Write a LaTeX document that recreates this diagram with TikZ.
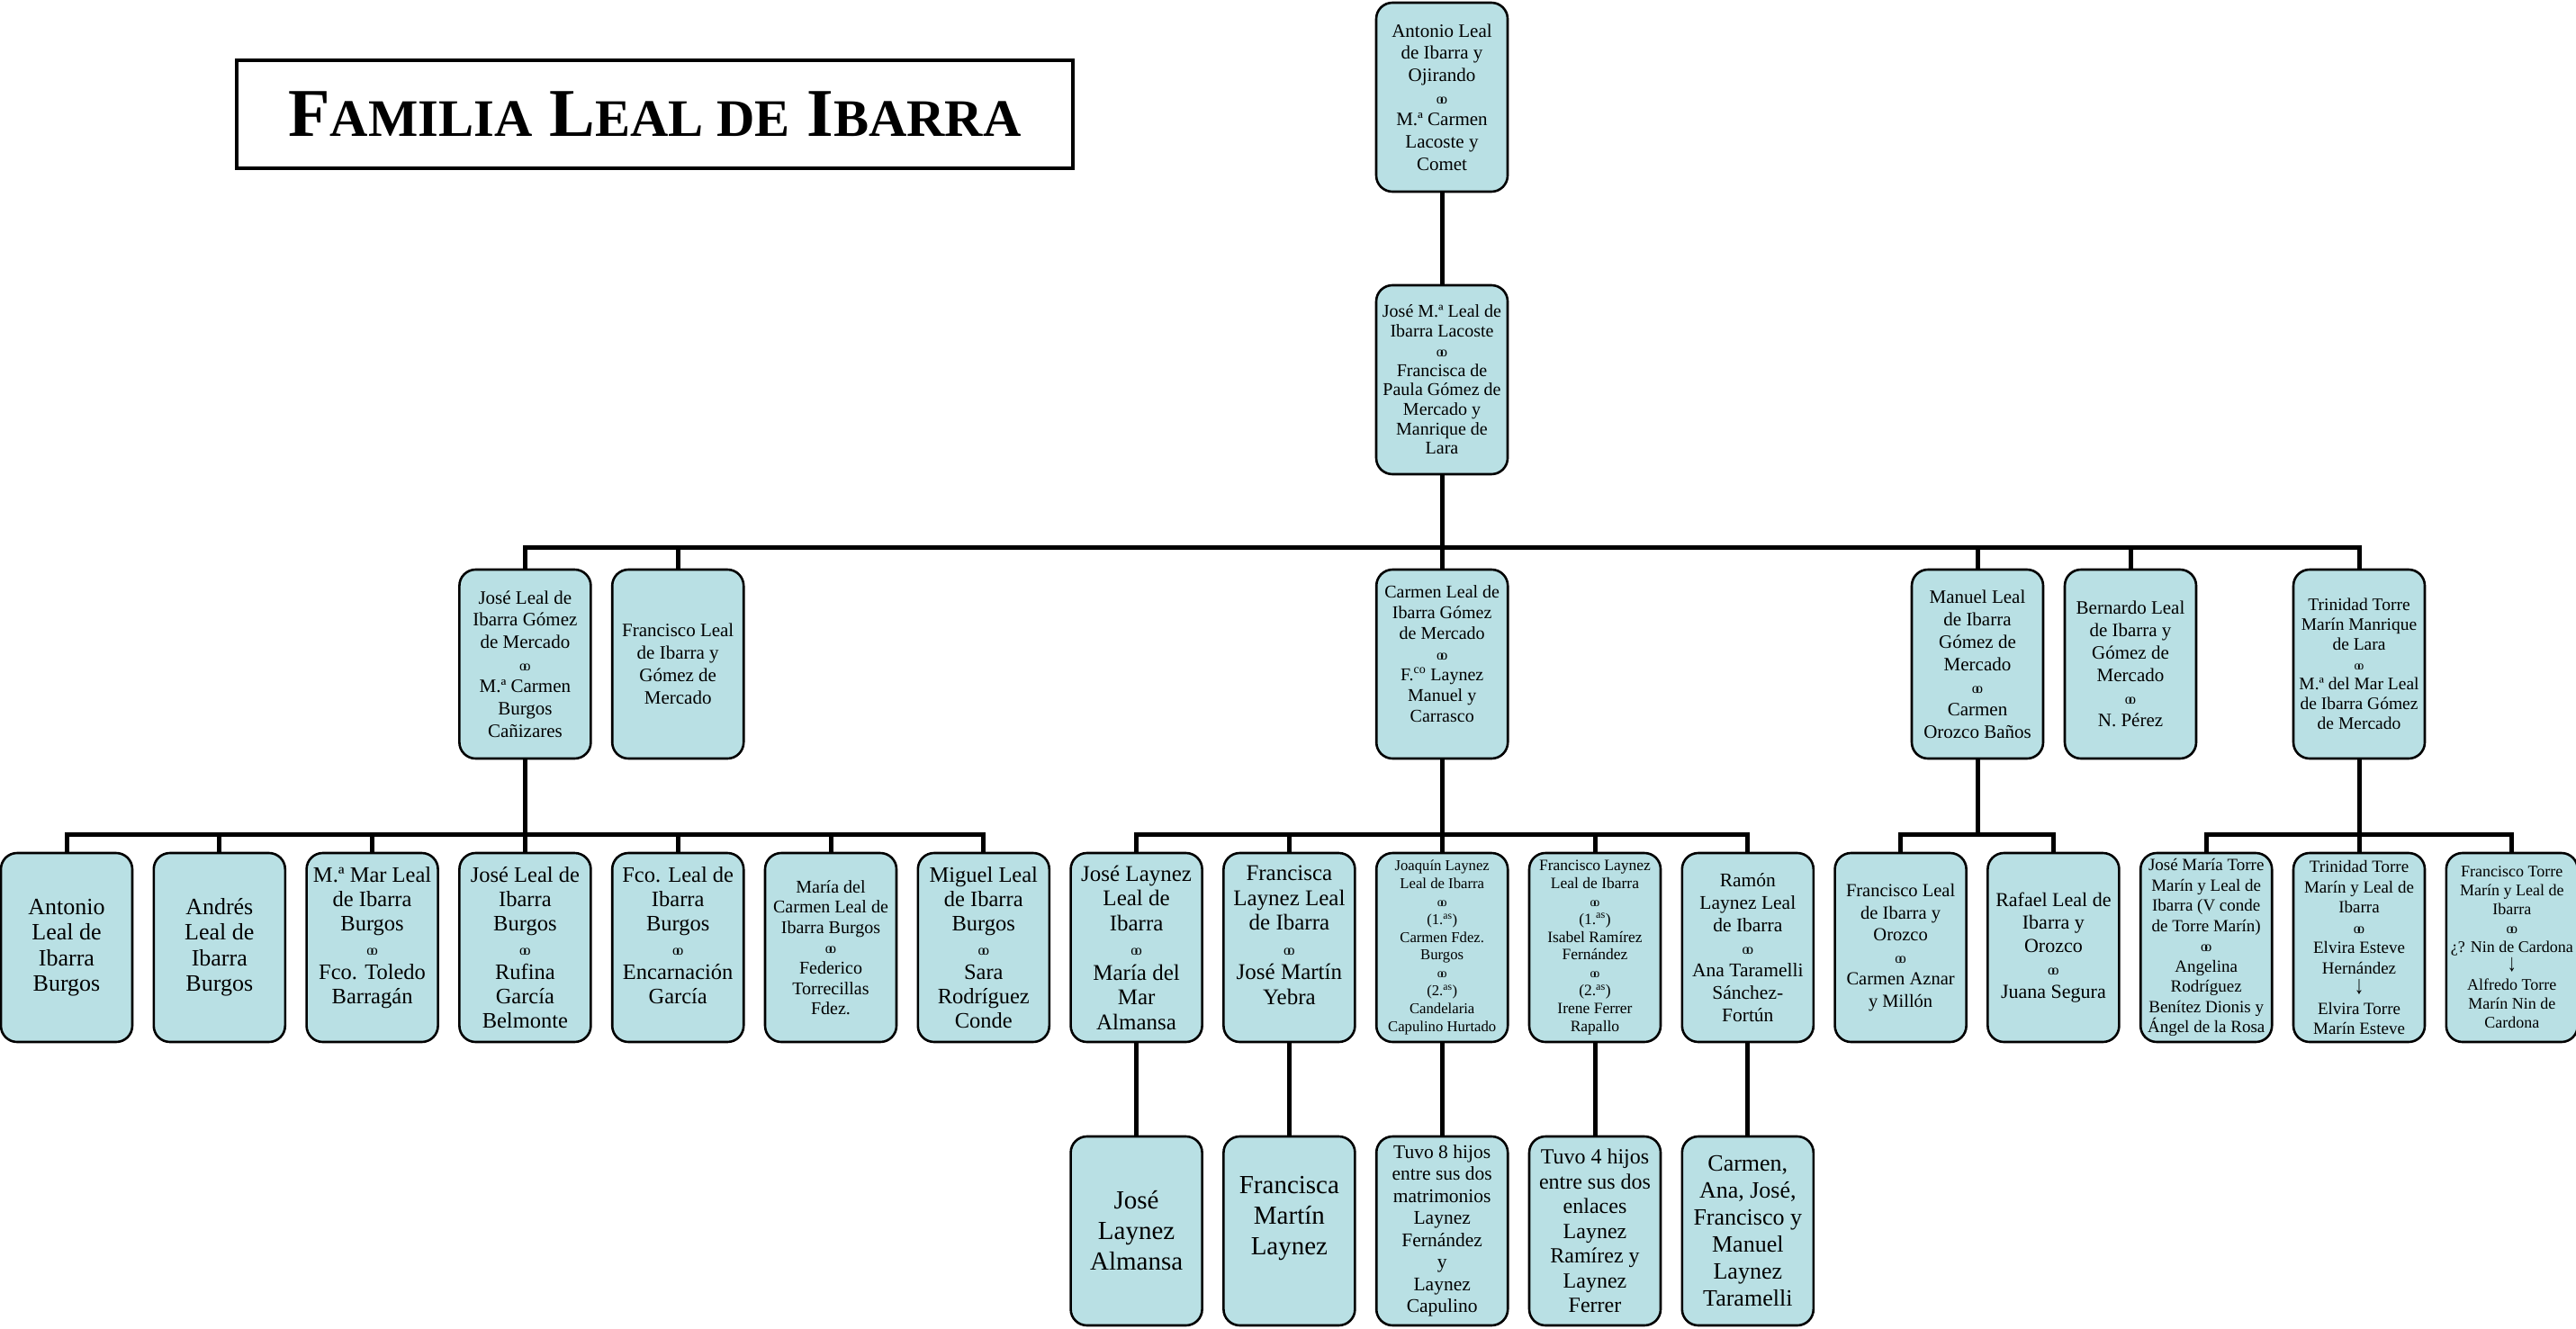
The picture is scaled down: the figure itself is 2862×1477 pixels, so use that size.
\documentclass[tikz,border=0pt]{standalone}
\usepackage{fontspec}
\setmainfont{Liberation Serif}
\usetikzlibrary{positioning,backgrounds}
\definecolor{aguaclara}{RGB}{185,224,228}
\newcommand{\boda}{{\fontsize{16}{16}\selectfont o\kern-3.6pt o}}
\newcommand{\bodita}{{\fontsize{14}{14}\selectfont o\kern-3.1pt o}}
\newcommand{\baja}{\smash{\scalebox{1.1}[1.5]{↓}}}
\newcommand{\versal}[1]{{\fontsize{58.6}{58.6}\selectfont #1}}
\tikzset{
  persona/.style={draw=black, line width=2.6pt, fill=aguaclara, rounded corners=18pt,
    minimum width=146pt, minimum height=210pt, align=center, inner sep=2pt},
  letra/.style 2 args={font=\fontsize{#1}{#2}\selectfont},
  rama/.style={line width=5pt, line cap=rect},
  titulo/.style={draw=black, line width=3.3pt, minimum width=929pt, minimum height=120pt,
    font=\fontsize{76}{76}\selectfont\bfseries},
}

\begin{document}
\begin{tikzpicture}[x=1pt, y=-1pt, node distance=21.2pt]
\useasboundingbox (0,0) rectangle (2862,1477);

\node[titulo] (titulo) at (727.5,127) {F\versal{AMILIA} L\versal{EAL DE} I\versal{BARRA}};

% generaciones de arriba
\node[persona, letra={21}{24.7}] (raiz) at (1602,108) {Antonio Leal\\de Ibarra y\\Ojirando\\\boda\\M.ª Carmen\\Lacoste y\\Comet};
\node[persona, letra={20}{21.7}] (padres) at (1602,422) {José M.ª Leal de\\Ibarra Lacoste\\\boda\\Francisca de\\Paula Gómez de\\Mercado y\\Manrique de\\Lara};

% hijos
\node[persona, letra={21}{24.7}] (jose) at (583.4,738) {José Leal de\\Ibarra Gómez\\de Mercado\\\boda\\M.ª Carmen\\Burgos\\Cañizares};
\node[persona, letra={21}{25}] (francisco) at (753.2,738) {Francisco Leal\\de Ibarra y\\Gómez de\\Mercado};
\node[persona, letra={20}{23}] (carmen) at (1602.2,738) {Carmen Leal de\\Ibarra Gómez\\de Mercado\\\boda\\F.\textsuperscript{co} Laynez\\Manuel y\\Carrasco\\\mbox{}};
\node[persona, letra={21}{25}] (manuel) at (2197,738) {Manuel Leal\\de Ibarra\\Gómez de\\Mercado\\\boda\\Carmen\\Orozco Baños};
\node[persona, letra={21}{25}] (bernardo) at (2367,738) {Bernardo Leal\\de Ibarra y\\Gómez de\\Mercado\\\boda\\N. Pérez};
\node[persona, letra={19.5}{22}] (trinidad) at (2621,738) {Trinidad Torre\\Marín Manrique\\de Lara\\\bodita\\M.ª del Mar Leal\\de Ibarra Gómez\\de Mercado};

% nietos
\node[persona, letra={26}{28.5}] (antonio) at (74,1053) {Antonio\\Leal de\\Ibarra\\Burgos};
\node[persona, letra={26}{28.5}, right=of antonio] (andres) {Andrés\\Leal de\\Ibarra\\Burgos};
\node[persona, letra={24.5}{27}, right=of andres] (mar) {M.ª Mar Leal\\de Ibarra\\Burgos\\\boda\\Fco. Toledo\\Barragán\\\mbox{}};
\node[persona, letra={24.5}{27}, right=of mar] (josel) {José Leal de\\Ibarra\\Burgos\\\boda\\Rufina\\García\\Belmonte};
\node[persona, letra={24.5}{27}, right=of josel] (fco) {Fco. Leal de\\Ibarra\\Burgos\\\boda\\Encarnación\\García\\\mbox{}};
\node[persona, letra={20}{22.6}, right=of fco] (mcarmen) {María del\\Carmen Leal de\\Ibarra Burgos\\\boda\\Federico\\Torrecillas\\Fdez.};
\node[persona, letra={24.5}{27}, right=of mcarmen] (miguel) {Miguel Leal\\de Ibarra\\Burgos\\\boda\\Sara\\Rodríguez\\Conde};
\node[persona, letra={25}{27.5}, right=of miguel] (josela) {José Laynez\\Leal de\\Ibarra\\\boda\\María del\\Mar\\Almansa};
\node[persona, letra={25}{27.5}, right=of josela] (francisca) {Francisca\\Laynez Leal\\de Ibarra\\\boda\\José Martín\\Yebra\\\mbox{}};
\node[persona, letra={16.7}{19.8}, right=of francisca] (joaquin) {Joaquín Laynez\\Leal de Ibarra\\\bodita\\(1.\textsuperscript{as})\\Carmen Fdez.\\Burgos\\\bodita\\(2.\textsuperscript{as})\\Candelaria\\Capulino Hurtado};
\node[persona, letra={17.5}{19.8}, right=of joaquin] (franciscol) {Francisco Laynez\\Leal de Ibarra\\\bodita\\(1.\textsuperscript{as})\\Isabel Ramírez\\Fernández\\\bodita\\(2.\textsuperscript{as})\\Irene Ferrer\\Rapallo};
\node[persona, letra={21.5}{25}, right=of franciscol] (ramon) {Ramón\\Laynez Leal\\de Ibarra\\\boda\\Ana Taramelli\\Sánchez-\\Fortún};
\node[persona, letra={20.5}{24.6}, right=of ramon] (franor) {Francisco Leal\\de Ibarra y\\Orozco\\\boda\\Carmen Aznar\\y Millón};
\node[persona, letra={22}{25.5}, right=of franor] (rafael) {Rafael Leal de\\Ibarra y\\Orozco\\\boda\\Juana Segura};
\node[persona, letra={19}{22.5}, right=of rafael] (josemt) {José María Torre\\Marín y Leal de\\Ibarra (V conde\\de Torre Marín)\\\boda\\Angelina\\Rodríguez\\Benítez Dionis y\\Ángel de la Rosa};
\node[persona, letra={19}{22.5}, right=of josemt] (trinidadt) {Trinidad Torre\\Marín y Leal de\\Ibarra\\\boda\\Elvira Esteve\\Hernández\\\baja\\Elvira Torre\\Marín Esteve};
\node[persona, letra={18}{21}, right=of trinidadt] (franciscot) {Francisco Torre\\Marín y Leal de\\Ibarra\\\boda\\¿? Nin de Cardona\\\baja\\Alfredo Torre\\Marín Nin de\\Cardona};

% bisnietos
\node[persona, letra={29}{34}, below=102.4pt of josela] (jalmansa) {José\\Laynez\\Almansa};
\node[persona, letra={29}{34}, below=102.4pt of francisca] (fmartin) {Francisca\\Martín\\Laynez\\\mbox{}};
\node[persona, letra={21.5}{24.5}, below=102.4pt of joaquin] (ochohijos) {Tuvo 8 hijos\\entre sus dos\\matrimonios\\Laynez\\Fernández\\y\\Laynez\\Capulino};
\node[persona, letra={24}{27.5}, below=102.4pt of franciscol] (cuatrohijos) {Tuvo 4 hijos\\entre sus dos\\enlaces\\Laynez\\Ramírez y\\Laynez\\Ferrer};
\node[persona, letra={26}{30}, below=102.4pt of ramon] (taramelli) {Carmen,\\Ana, José,\\Francisco y\\Manuel\\Laynez\\Taramelli};

\coordinate (bus1) at (0,608);
\coordinate (bus2) at (0,927);

\begin{scope}[on background layer]
\draw[rama] (raiz) -- (padres);
\draw[rama] (padres) -- (padres |- bus1);
\draw[rama] (jose.north |- bus1) -- (trinidad.north |- bus1);
\foreach \n in {jose,francisco,carmen,manuel,bernardo,trinidad}
  \draw[rama] (\n) -- (\n |- bus1);

\foreach \p in {jose,carmen,manuel,trinidad}
  \draw[rama] (\p) -- (\p |- bus2);
\draw[rama] (antonio |- bus2) -- (miguel |- bus2);
\draw[rama] (josela |- bus2) -- (ramon |- bus2);
\draw[rama] (franor |- bus2) -- (rafael |- bus2);
\draw[rama] (josemt |- bus2) -- (franciscot |- bus2);
\foreach \n in {antonio,andres,mar,josel,fco,mcarmen,miguel,josela,francisca,joaquin,franciscol,ramon,franor,rafael,josemt,trinidadt,franciscot}
  \draw[rama] (\n) -- (\n |- bus2);

\foreach \a/\b in {josela/jalmansa,francisca/fmartin,joaquin/ochohijos,franciscol/cuatrohijos,ramon/taramelli}
  \draw[rama] (\a) -- (\b);
\end{scope}
\end{tikzpicture}
\end{document}
